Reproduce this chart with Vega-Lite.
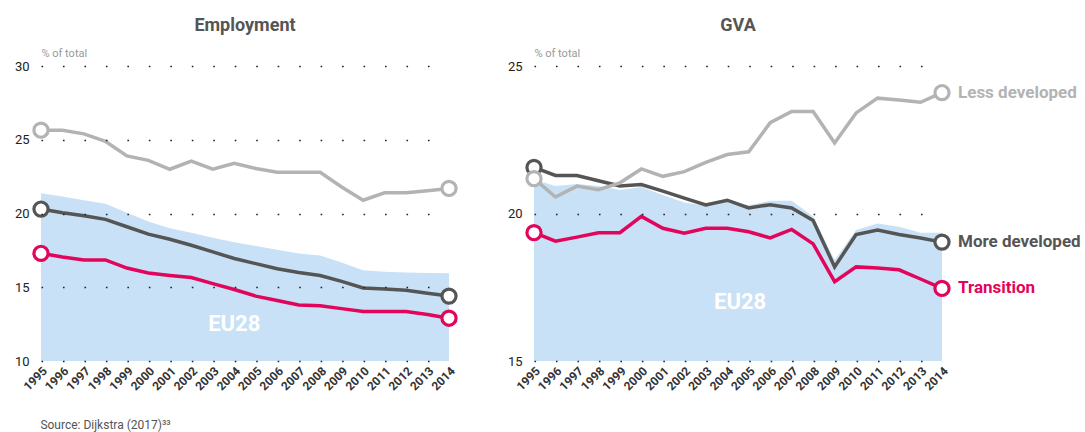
{
  "$schema": "https://vega.github.io/schema/vega-lite/v6.json",
  "padding": {"left": 14, "top": 17, "right": 2, "bottom": 0},
  "config": {
    "view": {"stroke": null},
    "font": "Roboto",
    "axisY": {
      "grid": true, "gridDash": [1.6, 19.87], "gridColor": "#222", "gridWidth": 1.6,
      "domain": false, "ticks": false, "labelPadding": 12, "labelFontSize": 13,
      "labelColor": "#222",
      "titleAngle": 0, "titleX": 0, "titleY": -8, "titleAlign": "left", "titleBaseline": "bottom",
      "titleColor": "#999", "titleFontSize": 11, "titleFontWeight": "normal"
    },
    "axisX": {
      "grid": false, "domain": false, "ticks": false, "labelAngle": -45, "labelFontSize": 12,
      "labelFontWeight": "bold", "labelColor": "#333", "labelPadding": 4, "title": null,
      "format": "d", "labelOverlap": false, "labelFlush": false
    },
    "title": {"fontSize": 18, "fontWeight": "bold", "color": "#555", "offset": 12}
  },
  "title": {"text": "Source: Dijkstra (2017)³³", "orient": "bottom", "anchor": "start", "dx": 26, "fontSize": 12, "fontWeight": "normal", "color": "#555", "offset": 28},
  "datasets": {
    "emp": [
      {"year": 1995, "series": "EU28", "value": 21.38},
      {"year": 1996, "series": "EU28", "value": 21.15},
      {"year": 1997, "series": "EU28", "value": 20.9},
      {"year": 1998, "series": "EU28", "value": 20.66},
      {"year": 1999, "series": "EU28", "value": 20.05},
      {"year": 2000, "series": "EU28", "value": 19.45},
      {"year": 2001, "series": "EU28", "value": 19.0},
      {"year": 2002, "series": "EU28", "value": 18.7},
      {"year": 2003, "series": "EU28", "value": 18.35},
      {"year": 2004, "series": "EU28", "value": 18.05},
      {"year": 2005, "series": "EU28", "value": 17.8},
      {"year": 2006, "series": "EU28", "value": 17.55},
      {"year": 2007, "series": "EU28", "value": 17.28},
      {"year": 2008, "series": "EU28", "value": 17.15},
      {"year": 2009, "series": "EU28", "value": 16.67},
      {"year": 2010, "series": "EU28", "value": 16.16},
      {"year": 2011, "series": "EU28", "value": 16.05},
      {"year": 2012, "series": "EU28", "value": 16.0},
      {"year": 2013, "series": "EU28", "value": 15.97},
      {"year": 2014, "series": "EU28", "value": 15.95},
      {"year": 1995, "series": "More developed", "value": 20.3},
      {"year": 1996, "series": "More developed", "value": 20.05},
      {"year": 1997, "series": "More developed", "value": 19.85},
      {"year": 1998, "series": "More developed", "value": 19.6},
      {"year": 1999, "series": "More developed", "value": 19.1},
      {"year": 2000, "series": "More developed", "value": 18.6},
      {"year": 2001, "series": "More developed", "value": 18.25},
      {"year": 2002, "series": "More developed", "value": 17.85},
      {"year": 2003, "series": "More developed", "value": 17.4},
      {"year": 2004, "series": "More developed", "value": 16.95},
      {"year": 2005, "series": "More developed", "value": 16.6},
      {"year": 2006, "series": "More developed", "value": 16.25},
      {"year": 2007, "series": "More developed", "value": 16.0},
      {"year": 2008, "series": "More developed", "value": 15.8},
      {"year": 2009, "series": "More developed", "value": 15.4},
      {"year": 2010, "series": "More developed", "value": 14.95},
      {"year": 2011, "series": "More developed", "value": 14.88},
      {"year": 2012, "series": "More developed", "value": 14.8},
      {"year": 2013, "series": "More developed", "value": 14.6},
      {"year": 2014, "series": "More developed", "value": 14.4},
      {"year": 1995, "series": "Less developed", "value": 25.65},
      {"year": 1996, "series": "Less developed", "value": 25.65},
      {"year": 1997, "series": "Less developed", "value": 25.4},
      {"year": 1998, "series": "Less developed", "value": 24.9},
      {"year": 1999, "series": "Less developed", "value": 23.9},
      {"year": 2000, "series": "Less developed", "value": 23.6},
      {"year": 2001, "series": "Less developed", "value": 23.0},
      {"year": 2002, "series": "Less developed", "value": 23.55},
      {"year": 2003, "series": "Less developed", "value": 23.0},
      {"year": 2004, "series": "Less developed", "value": 23.4},
      {"year": 2005, "series": "Less developed", "value": 23.05},
      {"year": 2006, "series": "Less developed", "value": 22.8},
      {"year": 2007, "series": "Less developed", "value": 22.8},
      {"year": 2008, "series": "Less developed", "value": 22.8},
      {"year": 2009, "series": "Less developed", "value": 21.8},
      {"year": 2010, "series": "Less developed", "value": 20.9},
      {"year": 2011, "series": "Less developed", "value": 21.4},
      {"year": 2012, "series": "Less developed", "value": 21.4},
      {"year": 2013, "series": "Less developed", "value": 21.55},
      {"year": 2014, "series": "Less developed", "value": 21.7},
      {"year": 1995, "series": "Transition", "value": 17.3},
      {"year": 1996, "series": "Transition", "value": 17.05},
      {"year": 1997, "series": "Transition", "value": 16.85},
      {"year": 1998, "series": "Transition", "value": 16.85},
      {"year": 1999, "series": "Transition", "value": 16.3},
      {"year": 2000, "series": "Transition", "value": 15.97},
      {"year": 2001, "series": "Transition", "value": 15.8},
      {"year": 2002, "series": "Transition", "value": 15.66},
      {"year": 2003, "series": "Transition", "value": 15.25},
      {"year": 2004, "series": "Transition", "value": 14.85},
      {"year": 2005, "series": "Transition", "value": 14.4},
      {"year": 2006, "series": "Transition", "value": 14.1},
      {"year": 2007, "series": "Transition", "value": 13.8},
      {"year": 2008, "series": "Transition", "value": 13.75},
      {"year": 2009, "series": "Transition", "value": 13.55},
      {"year": 2010, "series": "Transition", "value": 13.35},
      {"year": 2011, "series": "Transition", "value": 13.35},
      {"year": 2012, "series": "Transition", "value": 13.35},
      {"year": 2013, "series": "Transition", "value": 13.15},
      {"year": 2014, "series": "Transition", "value": 12.9}
    ],
    "gva": [
      {"year": 1995, "series": "EU28", "value": 21.15},
      {"year": 1996, "series": "EU28", "value": 20.93},
      {"year": 1997, "series": "EU28", "value": 21.0},
      {"year": 1998, "series": "EU28", "value": 20.93},
      {"year": 1999, "series": "EU28", "value": 20.8},
      {"year": 2000, "series": "EU28", "value": 20.9},
      {"year": 2001, "series": "EU28", "value": 20.63},
      {"year": 2002, "series": "EU28", "value": 20.37},
      {"year": 2003, "series": "EU28", "value": 20.26},
      {"year": 2004, "series": "EU28", "value": 20.43},
      {"year": 2005, "series": "EU28", "value": 20.28},
      {"year": 2006, "series": "EU28", "value": 20.43},
      {"year": 2007, "series": "EU28", "value": 20.43},
      {"year": 2008, "series": "EU28", "value": 19.9},
      {"year": 2009, "series": "EU28", "value": 18.42},
      {"year": 2010, "series": "EU28", "value": 19.44},
      {"year": 2011, "series": "EU28", "value": 19.66},
      {"year": 2012, "series": "EU28", "value": 19.55},
      {"year": 2013, "series": "EU28", "value": 19.35},
      {"year": 2014, "series": "EU28", "value": 19.35},
      {"year": 1995, "series": "More developed", "value": 21.56},
      {"year": 1996, "series": "More developed", "value": 21.29},
      {"year": 1997, "series": "More developed", "value": 21.29},
      {"year": 1998, "series": "More developed", "value": 21.11},
      {"year": 1999, "series": "More developed", "value": 20.93},
      {"year": 2000, "series": "More developed", "value": 20.98},
      {"year": 2001, "series": "More developed", "value": 20.76},
      {"year": 2002, "series": "More developed", "value": 20.52},
      {"year": 2003, "series": "More developed", "value": 20.29},
      {"year": 2004, "series": "More developed", "value": 20.45},
      {"year": 2005, "series": "More developed", "value": 20.19},
      {"year": 2006, "series": "More developed", "value": 20.3},
      {"year": 2007, "series": "More developed", "value": 20.19},
      {"year": 2008, "series": "More developed", "value": 19.76},
      {"year": 2009, "series": "More developed", "value": 18.19},
      {"year": 2010, "series": "More developed", "value": 19.29},
      {"year": 2011, "series": "More developed", "value": 19.44},
      {"year": 2012, "series": "More developed", "value": 19.29},
      {"year": 2013, "series": "More developed", "value": 19.17},
      {"year": 2014, "series": "More developed", "value": 19.03},
      {"year": 1995, "series": "Less developed", "value": 21.18},
      {"year": 1996, "series": "Less developed", "value": 20.56},
      {"year": 1997, "series": "Less developed", "value": 20.93},
      {"year": 1998, "series": "Less developed", "value": 20.81},
      {"year": 1999, "series": "Less developed", "value": 21.04},
      {"year": 2000, "series": "Less developed", "value": 21.51},
      {"year": 2001, "series": "Less developed", "value": 21.26},
      {"year": 2002, "series": "Less developed", "value": 21.42},
      {"year": 2003, "series": "Less developed", "value": 21.73},
      {"year": 2004, "series": "Less developed", "value": 22.0},
      {"year": 2005, "series": "Less developed", "value": 22.09},
      {"year": 2006, "series": "Less developed", "value": 23.08},
      {"year": 2007, "series": "Less developed", "value": 23.46},
      {"year": 2008, "series": "Less developed", "value": 23.46},
      {"year": 2009, "series": "Less developed", "value": 22.39},
      {"year": 2010, "series": "Less developed", "value": 23.41},
      {"year": 2011, "series": "Less developed", "value": 23.91},
      {"year": 2012, "series": "Less developed", "value": 23.85},
      {"year": 2013, "series": "Less developed", "value": 23.77},
      {"year": 2014, "series": "Less developed", "value": 24.1},
      {"year": 1995, "series": "Transition", "value": 19.35},
      {"year": 1996, "series": "Transition", "value": 19.06},
      {"year": 1997, "series": "Transition", "value": 19.2},
      {"year": 1998, "series": "Transition", "value": 19.35},
      {"year": 1999, "series": "Transition", "value": 19.35},
      {"year": 2000, "series": "Transition", "value": 19.9},
      {"year": 2001, "series": "Transition", "value": 19.5},
      {"year": 2002, "series": "Transition", "value": 19.33},
      {"year": 2003, "series": "Transition", "value": 19.5},
      {"year": 2004, "series": "Transition", "value": 19.5},
      {"year": 2005, "series": "Transition", "value": 19.38},
      {"year": 2006, "series": "Transition", "value": 19.17},
      {"year": 2007, "series": "Transition", "value": 19.46},
      {"year": 2008, "series": "Transition", "value": 18.97},
      {"year": 2009, "series": "Transition", "value": 17.69},
      {"year": 2010, "series": "Transition", "value": 18.19},
      {"year": 2011, "series": "Transition", "value": 18.15},
      {"year": 2012, "series": "Transition", "value": 18.09},
      {"year": 2013, "series": "Transition", "value": 17.78},
      {"year": 2014, "series": "Transition", "value": 17.46}
    ]
  },
  "hconcat": [
    {
      "width": 408, "height": 295,
      "title": {"text": "Employment"},
      "data": {"name": "emp"},
      "encoding": {
        "x": {"field": "year", "type": "quantitative", "scale": {"domain": [1995, 2014], "nice": false, "zero": false},
              "axis": {"values": [1995,1996,1997,1998,1999,2000,2001,2002,2003,2004,2005,2006,2007,2008,2009,2010,2011,2012,2013,2014], "labelOverlap": false, "labelFlush": false}},
        "y": {"field": "value", "type": "quantitative", "scale": {"domain": [10, 30], "nice": false, "zero": false},
              "axis": {"values": [10, 15, 20, 25, 30], "title": "% of total", "zindex": 1}}
      },
      "layer": [
        {"transform": [{"filter": "datum.series === 'EU28'"}], "mark": {"type": "area", "color": "#c8e1f6"},
         "encoding": {"y2": {"datum": 10}}},
        {"transform": [{"filter": "datum.series !== 'EU28'"}], "mark": {"type": "line", "strokeWidth": 3.5},
         "encoding": {"color": {"field": "series", "type": "nominal", "legend": null,
           "scale": {"domain": ["Less developed", "More developed", "Transition"], "range": ["#b3b3b3", "#555555", "#e1065b"]}}}},
        {"transform": [{"filter": "datum.series !== 'EU28' && (datum.year === 1995 || datum.year === 2014)"}],
         "mark": {"type": "point", "filled": false, "fill": "white", "fillOpacity": 1, "size": 200, "strokeWidth": 3.2, "opacity": 1},
         "encoding": {"stroke": {"field": "series", "type": "nominal", "legend": null,
           "scale": {"domain": ["Less developed", "More developed", "Transition"], "range": ["#b3b3b3", "#555555", "#e1065b"]}}}},
        {"data": {"values": [{"year": 2004, "value": 12.5, "label": "EU28"}]},
         "mark": {"type": "text", "color": "white", "fontSize": 22, "fontWeight": "bold"},
         "encoding": {"text": {"field": "label"}}}
      ]
    },
    {
      "width": 408, "height": 295,
      "title": {"text": "GVA"},
      "data": {"name": "gva"},
      "encoding": {
        "x": {"field": "year", "type": "quantitative", "scale": {"domain": [1995, 2014], "nice": false, "zero": false},
              "axis": {"values": [1995,1996,1997,1998,1999,2000,2001,2002,2003,2004,2005,2006,2007,2008,2009,2010,2011,2012,2013,2014], "labelOverlap": false, "labelFlush": false}},
        "y": {"field": "value", "type": "quantitative", "scale": {"domain": [15, 25], "nice": false, "zero": false},
              "axis": {"values": [15, 20, 25], "title": "% of total", "zindex": 1}}
      },
      "layer": [
        {"transform": [{"filter": "datum.series === 'EU28'"}], "mark": {"type": "area", "color": "#c8e1f6"},
         "encoding": {"y2": {"datum": 15}}},
        {"transform": [{"filter": "datum.series !== 'EU28'"}], "mark": {"type": "line", "strokeWidth": 3.5},
         "encoding": {"color": {"field": "series", "type": "nominal", "legend": null,
           "scale": {"domain": ["Less developed", "More developed", "Transition"], "range": ["#b3b3b3", "#555555", "#e1065b"]}}}},
        {"transform": [{"filter": "datum.series !== 'EU28' && (datum.year === 1995 || datum.year === 2014)"}],
         "mark": {"type": "point", "filled": false, "fill": "white", "fillOpacity": 1, "size": 200, "strokeWidth": 3.2, "opacity": 1},
         "encoding": {"stroke": {"field": "series", "type": "nominal", "legend": null,
           "scale": {"domain": ["Less developed", "More developed", "Transition"], "range": ["#b3b3b3", "#555555", "#e1065b"]}}}},
        {"transform": [{"filter": "datum.series !== 'EU28' && datum.year === 2014"}],
         "mark": {"type": "text", "align": "left", "dx": 16, "fontSize": 17, "fontWeight": "bold"},
         "encoding": {"text": {"field": "series"},
           "color": {"field": "series", "type": "nominal", "legend": null,
             "scale": {"domain": ["Less developed", "More developed", "Transition"], "range": ["#b3b3b3", "#555555", "#e1065b"]}}}},
        {"data": {"values": [{"year": 2004.6, "value": 17.0, "label": "EU28"}]},
         "mark": {"type": "text", "color": "white", "fontSize": 22, "fontWeight": "bold"},
         "encoding": {"text": {"field": "label"}}}
      ]
    }
  ],
  "spacing": 44
}
